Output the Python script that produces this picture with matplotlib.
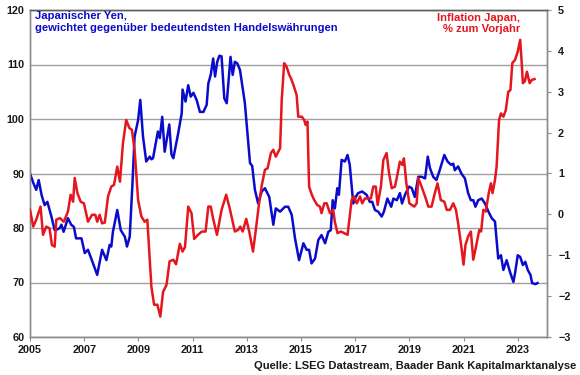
import matplotlib
matplotlib.use("Agg")
import matplotlib.pyplot as plt

plt.rcParams['font.family'] = ['Liberation Sans', 'DejaVu Sans']

# Japanese yen, trade-weighted (left axis) - (decimal year, index)
yen_t = [2005.00, 2005.12, 2005.23, 2005.32, 2005.43, 2005.54, 2005.64, 2005.79, 2005.91, 2006.03,
         2006.10, 2006.16, 2006.24, 2006.40, 2006.52, 2006.62, 2006.70, 2006.90, 2007.02, 2007.14,
         2007.26, 2007.48, 2007.66, 2007.82, 2007.94, 2008.00, 2008.06, 2008.22, 2008.35, 2008.50,
         2008.58, 2008.68, 2008.78, 2008.86, 2008.99, 2009.07, 2009.17, 2009.29, 2009.42, 2009.48,
         2009.54, 2009.72, 2009.79, 2009.88, 2009.97, 2010.14, 2010.22, 2010.29, 2010.47, 2010.60,
         2010.63, 2010.74, 2010.84, 2010.93, 2011.03, 2011.15, 2011.27, 2011.40, 2011.52, 2011.58,
         2011.67, 2011.76, 2011.83, 2011.91, 2011.99, 2012.07, 2012.17, 2012.26, 2012.40, 2012.48,
         2012.56, 2012.65, 2012.75, 2012.93, 2013.12, 2013.20, 2013.30, 2013.42, 2013.55, 2013.67,
         2013.83, 2013.98, 2014.07, 2014.23, 2014.41, 2014.53, 2014.66, 2014.78, 2014.93, 2015.09,
         2015.21, 2015.30, 2015.39, 2015.52, 2015.64, 2015.76, 2015.89, 2016.01, 2016.10, 2016.17,
         2016.25, 2016.34, 2016.40, 2016.50, 2016.62, 2016.72, 2016.80, 2016.93, 2017.02, 2017.11,
         2017.26, 2017.42, 2017.54, 2017.63, 2017.73, 2017.85, 2017.98, 2018.06, 2018.19, 2018.33,
         2018.41, 2018.54, 2018.65, 2018.73, 2018.84, 2018.99, 2019.09, 2019.20, 2019.33, 2019.45,
         2019.58, 2019.68, 2019.76, 2019.88, 2020.00, 2020.12, 2020.29, 2020.41, 2020.54, 2020.62,
         2020.68, 2020.80, 2020.92, 2021.05, 2021.17, 2021.27, 2021.36, 2021.44, 2021.54, 2021.67,
         2021.79, 2021.92, 2022.04, 2022.16, 2022.28, 2022.38, 2022.47, 2022.59, 2022.71, 2022.84,
         2022.90, 2023.00, 2023.09, 2023.19, 2023.28, 2023.37, 2023.47, 2023.53, 2023.65, 2023.73]
yen_v = [90.0, 88.3, 87.0, 88.8, 86.0, 84.2, 84.8, 82.1, 79.6, 79.8,
         80.0, 80.6, 79.3, 81.8, 80.6, 80.2, 78.1, 78.1, 75.4, 76.0,
         74.4, 71.4, 76.0, 74.1, 76.9, 76.6, 79.3, 83.3, 79.6, 78.4,
         76.6, 78.4, 88.0, 96.8, 99.8, 103.5, 96.8, 92.2, 93.1, 92.6,
         92.8, 97.7, 96.5, 100.4, 94.0, 99.0, 93.5, 92.8, 97.4, 101.1,
         105.4, 103.2, 106.2, 104.1, 104.8, 103.5, 101.3, 101.3, 102.6, 106.5,
         108.1, 111.1, 107.8, 110.5, 111.6, 111.5, 103.8, 102.9, 111.4, 108.1,
         110.5, 110.2, 109.0, 102.9, 91.9, 91.4, 87.0, 84.5, 86.7, 87.3,
         85.7, 80.6, 83.6, 83.0, 83.9, 83.9, 82.4, 78.1, 74.1, 77.2,
         76.0, 76.0, 73.5, 74.4, 77.8, 78.7, 77.2, 79.3, 79.6, 85.1,
         83.6, 87.3, 86.1, 92.5, 92.2, 93.4, 91.6, 84.5, 85.7, 86.4,
         86.7, 86.1, 84.8, 84.8, 83.3, 83.0, 82.1, 83.0, 85.4, 83.9,
         85.4, 85.1, 86.4, 84.5, 86.1, 87.6, 87.3, 85.7, 89.4, 89.4,
         89.1, 93.1, 91.0, 89.4, 88.8, 90.6, 93.4, 92.2, 91.6, 91.8,
         90.6, 91.3, 90.0, 89.1, 86.4, 85.1, 85.1, 83.9, 85.1, 85.4,
         84.5, 83.0, 81.8, 81.2, 74.4, 75.0, 72.3, 74.1, 72.0, 70.1,
         71.7, 75.0, 74.7, 73.2, 73.8, 72.3, 71.4, 69.9, 69.7, 69.9]

# Inflation Japan, % y/y (right axis) - (decimal year, percent)
cpi_t = [2005.00, 2005.12, 2005.23, 2005.39, 2005.48, 2005.60, 2005.72, 2005.81, 2005.91, 2005.97,
         2006.10, 2006.25, 2006.40, 2006.50, 2006.59, 2006.65, 2006.75, 2006.87, 2006.99, 2007.14,
         2007.29, 2007.41, 2007.48, 2007.57, 2007.66, 2007.76, 2007.88, 2008.00, 2008.10, 2008.22,
         2008.32, 2008.43, 2008.55, 2008.67, 2008.76, 2008.86, 2008.99, 2009.11, 2009.23, 2009.33,
         2009.48, 2009.58, 2009.70, 2009.81, 2009.91, 2010.04, 2010.15, 2010.29, 2010.39, 2010.53,
         2010.63, 2010.72, 2010.84, 2010.96, 2011.06, 2011.20, 2011.34, 2011.48, 2011.58, 2011.67,
         2011.76, 2011.90, 2012.07, 2012.24, 2012.37, 2012.56, 2012.68, 2012.76, 2012.85, 2012.98,
         2013.10, 2013.23, 2013.33, 2013.44, 2013.55, 2013.67, 2013.77, 2013.89, 2013.98, 2014.07,
         2014.23, 2014.29, 2014.38, 2014.47, 2014.57, 2014.63, 2014.72, 2014.84, 2014.90, 2015.03,
         2015.12, 2015.17, 2015.24, 2015.30, 2015.40, 2015.49, 2015.60, 2015.70, 2015.76, 2015.86,
         2015.95, 2016.07, 2016.19, 2016.25, 2016.35, 2016.47, 2016.60, 2016.72, 2016.87, 2016.95,
         2017.06, 2017.18, 2017.26, 2017.36, 2017.48, 2017.58, 2017.67, 2017.76, 2017.83, 2017.95,
         2018.04, 2018.16, 2018.25, 2018.35, 2018.47, 2018.57, 2018.65, 2018.74, 2018.80, 2018.89,
         2019.00, 2019.09, 2019.18, 2019.27, 2019.33, 2019.45, 2019.58, 2019.70, 2019.82, 2019.94,
         2020.04, 2020.16, 2020.29, 2020.38, 2020.50, 2020.62, 2020.72, 2020.80, 2020.92, 2021.00,
         2021.07, 2021.17, 2021.27, 2021.36, 2021.46, 2021.58, 2021.65, 2021.73, 2021.82, 2021.93,
         2022.01, 2022.07, 2022.16, 2022.22, 2022.31, 2022.38, 2022.47, 2022.56, 2022.65, 2022.73,
         2022.80, 2022.90, 2023.00, 2023.09, 2023.14, 2023.19, 2023.26, 2023.34, 2023.44, 2023.52,
         2023.62]
cpi_v = [0.11, -0.30, -0.13, 0.19, -0.50, -0.30, -0.34, -0.75, -0.79, -0.13,
         -0.09, -0.18, 0.07, 0.48, 0.31, 0.89, 0.52, 0.31, 0.27, -0.18,
         -0.01, -0.01, -0.18, -0.01, -0.22, -0.20, 0.44, 0.68, 0.72, 1.17,
         0.80, 1.74, 2.31, 2.11, 2.07, 1.58, 0.35, -0.05, -0.18, -0.13,
         -1.77, -2.21, -2.21, -2.50, -1.90, -1.72, -1.15, -1.11, -1.22, -0.72,
         -0.91, -0.80, 0.19, 0.03, -0.60, -0.50, -0.42, -0.42, 0.19, 0.19,
         -0.11, -0.50, 0.11, 0.48, 0.15, -0.42, -0.38, -0.30, -0.42, -0.11,
         -0.45, -0.91, -0.40, 0.20, 0.70, 1.09, 1.13, 1.50, 1.58, 1.41,
         1.62, 2.80, 3.70, 3.61, 3.41, 3.33, 3.17, 2.92, 2.39, 2.39,
         2.31, 2.19, 2.27, 0.68, 0.48, 0.35, 0.23, 0.19, 0.03, 0.27,
         0.27, 0.03, 0.11, -0.18, -0.46, -0.42, -0.46, -0.50, 0.35, 0.44,
         0.27, 0.44, 0.27, 0.39, 0.39, 0.39, 0.68, 0.68, 0.23, 0.68,
         1.33, 1.50, 1.01, 0.64, 0.68, 1.01, 1.29, 1.21, 1.37, 0.76,
         0.27, 0.23, 0.19, 0.27, 0.89, 0.68, 0.44, 0.19, 0.19, 0.52,
         0.76, 0.35, 0.31, 0.11, 0.11, 0.27, 0.11, -0.22, -0.79, -1.23,
         -0.75, -0.54, -0.42, -1.11, -0.79, -0.38, -0.42, 0.11, 0.07, 0.52,
         0.76, 0.52, 0.84, 1.17, 2.31, 2.47, 2.39, 2.55, 3.00, 3.04,
         3.70, 3.78, 3.98, 4.27, 3.78, 3.21, 3.25, 3.49, 3.21, 3.29,
         3.31]

year_ticks = [2005, 2007, 2009, 2011, 2013, 2015, 2017, 2019, 2021, 2023]
left_ticks = [60, 70, 80, 90, 100, 110, 120]
right_ticks = [-3, -2, -1, 0, 1, 2, 3, 4, 5]

BLUE = '#0B0BCB'
RED = '#E5161E'
GRID = '#A0A0A0'
SPINE = '#8C8C8C'

W, H = 580, 375
fig = plt.figure(figsize=(W / 100, H / 100), dpi=100)
ax = fig.add_axes([30 / W, 1 - 337 / H, (547 - 30) / W, (337 - 10) / H])
ax2 = ax.twinx()

ax.set_xlim(2005, 2024.08)
ax.set_ylim(60, 120)
ax2.set_ylim(-3, 5)

ax.set_yticks(left_ticks)
ax.set_xticks(year_ticks)
ax2.set_yticks(right_ticks)
ax.grid(axis='y', color=GRID, linewidth=1.0)
ax.set_axisbelow(True)

ax.plot(yen_t, yen_v, color=BLUE, linewidth=1.8, solid_joinstyle='round', zorder=3)
ax2.plot(cpi_t, cpi_v, color=RED, linewidth=1.8, solid_joinstyle='round', zorder=3)

for a in (ax, ax2):
    for s in a.spines.values():
        s.set_color(SPINE)
        s.set_linewidth(1.0)
ax.spines['top'].set_color('#606060')
ax2.spines['top'].set_color('#606060')

ax.tick_params(axis='y', length=0, pad=4, labelsize=7.8)
ax.tick_params(axis='x', length=3, color=SPINE, direction='out', pad=3, labelsize=7.8)
ax2.tick_params(axis='y', length=3, color=SPINE, direction='out', pad=5, labelsize=7.8)
for lab in ax.get_xticklabels() + ax.get_yticklabels() + ax2.get_yticklabels():
    lab.set_fontweight('bold')
    lab.set_color('#1a1a1a')

fig.text(35 / W, 1 - 11 / H, 'Japanischer Yen,\ngewichtet gegenüber bedeutendsten Handelswährungen',
         color=BLUE, fontsize=8.1, fontweight='bold', ha='left', va='top', linespacing=1.2)
fig.text(520 / W, 1 - 13 / H, 'Inflation Japan,\n% zum Vorjahr',
         color=RED, fontsize=8.1, fontweight='bold', ha='right', va='top', linespacing=1.15,
         multialignment='right')
fig.text(576 / W, 1 - 366 / H, 'Quelle: LSEG Datastream, Baader Bank Kapitalmarktanalyse',
         color='#1a1a1a', fontsize=8.0, fontweight='bold', ha='right', va='center')

fig.savefig('out.png', dpi=100)
